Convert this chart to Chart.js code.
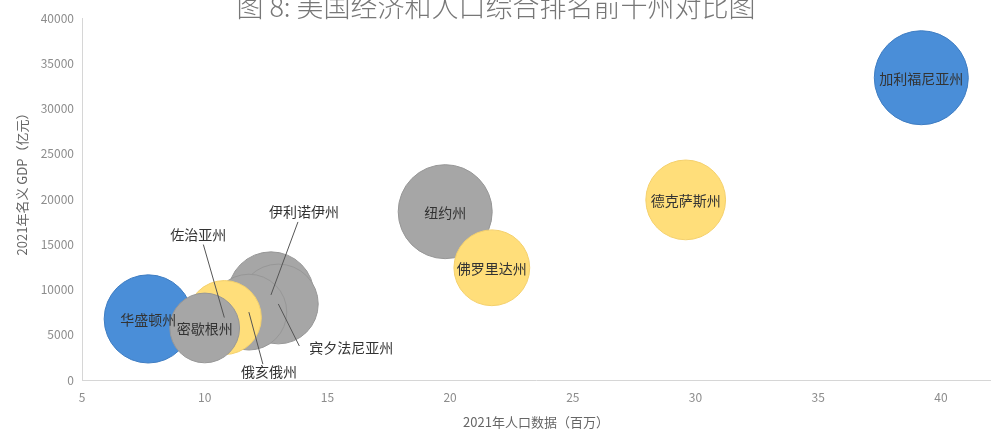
<!DOCTYPE html>
<html>
<head>
<meta charset="utf-8">
<script src="https://cdn.jsdelivr.net/npm/chart.js@4/dist/chart.umd.min.js"></script>
<style>
  html, body { margin: 0; padding: 0; background: #fff; overflow: hidden; }
  #wrap { width: 999px; height: 435px; position: relative; }
</style>
</head>
<body>
<div id="wrap"><canvas id="bubbleChart" width="999" height="435"></canvas></div>
<script>
// Dados: 2021 população (milhões), PIB nominal (亿元), tamanho relativo da bolha
const states = ["加利福尼亚州", "德克萨斯州", "纽约州", "佛罗里达州", "伊利诺伊州", "宾夕法尼亚州", "俄亥俄州", "佐治亚州", "华盛顿州", "密歇根州"];
const population = [39.2, 29.6, 19.8, 21.7, 12.7, 13.0, 11.8, 10.8, 7.7, 10.0];
const gdp = [33400, 19900, 18600, 12400, 9400, 8400, 7500, 6900, 6750, 5750];
const bubbleSize = [100, 72, 100, 65, 84, 72, 65, 62, 88, 55];
const region = ["west", "south", "northeast", "south", "midwest", "northeast", "midwest", "south", "west", "midwest"];
const xTicks = [5, 10, 15, 20, 25, 30, 35, 40];
const yTicks = [0, 5000, 10000, 15000, 20000, 25000, 30000, 35000, 40000];

const regionColors = {
    west: { fill: "#4a8ed8", border: "#3f7dc2" },
    south: { fill: "#ffde7a", border: "#f4d06c" },
    northeast: { fill: "#a6a6a6", border: "#979797" },
    midwest: { fill: "#a6a6a6", border: "#979797" }
};

// Rótulos fora da bolha (com linha de chamada)
const calloutLabels = {
    "伊利诺伊州": { dx: 33, dy: -83, lineFrom: [27, -73] },
    "宾夕法尼亚州": { dx: 73, dy: 44, lineFrom: [21, 42] },
    "俄亥俄州": { dx: 20, dy: 60, lineFrom: [14, 52] },
    "佐治亚州": { dx: -26, dy: -83, lineFrom: [-21, -73] }
};

const maxRadius = 47;
const maxSize = Math.max(...bubbleSize);
const points = states.map((s, i) => ({
    x: population[i],
    y: gdp[i],
    r: maxRadius * Math.sqrt(bubbleSize[i] / maxSize),
    label: s
}));

const fontFamily = "'Noto Sans CJK SC', 'Noto Sans', sans-serif";

// Plugin para títulos e rótulos das bolhas
const labelPlugin = {
    id: "bubbleLabels",
    afterDatasetsDraw(chart) {
        const ctx = chart.ctx;
        const meta = chart.getDatasetMeta(0);
        ctx.save();
        ctx.font = "14px " + fontFamily;
        ctx.fillStyle = "#333";
        ctx.textAlign = "center";
        ctx.textBaseline = "middle";
        meta.data.forEach((el, i) => {
            const name = states[i];
            const c = calloutLabels[name];
            if (c) {
                ctx.strokeStyle = "#555";
                ctx.lineWidth = 1;
                ctx.beginPath();
                ctx.moveTo(el.x + c.lineFrom[0], el.y + c.lineFrom[1]);
                ctx.lineTo(el.x, el.y);
                ctx.stroke();
                ctx.fillText(name, el.x + c.dx, el.y + c.dy);
            } else {
                ctx.fillText(name, el.x, el.y + 1);
            }
        });
        ctx.restore();
    },
    afterDraw(chart) {
        const ctx = chart.ctx;
        ctx.save();
        ctx.font = "300 27px " + fontFamily;
        ctx.fillStyle = "#777";
        ctx.textAlign = "center";
        ctx.textBaseline = "middle";
        ctx.fillText("图 8: 美国经济和人口综合排名前十州对比图", 496, 7);

        // Título do eixo Y (um pouco acima do centro, como no original)
        ctx.translate(22, 181);
        ctx.rotate(-Math.PI / 2);
        ctx.font = "13px " + fontFamily;
        ctx.fillStyle = "#666";
        ctx.fillText("2021年名义 GDP（亿元）", 0, 0);
        ctx.restore();
    }
};

const chartCtx = document.getElementById("bubbleChart").getContext("2d");
new Chart(chartCtx, {
    type: "bubble",
    data: {
        datasets: [{
            data: points,
            backgroundColor: region.map(r => regionColors[r].fill),
            borderColor: region.map(r => regionColors[r].border),
            borderWidth: 1
        }]
    },
    options: {
        responsive: false,
        animation: false,
        maintainAspectRatio: false,
        layout: { autoPadding: false, padding: { top: 18, right: 9, left: 0, bottom: 0 } },
        plugins: {
            legend: { display: false },
            tooltip: { enabled: false }
        },
        scales: {
            x: {
                type: "linear",
                min: 5,
                max: 42,
                afterFit: scale => { scale.height = 55; },
                afterBuildTicks: scale => { scale.ticks = xTicks.map(v => ({ value: v })); },
                grid: { display: false, drawTicks: false },
                border: { display: true, color: "#d6d6d6" },
                ticks: { padding: 10, color: "#8c8c8c", font: { family: fontFamily, size: 12 } },
                title: {
                    display: true,
                    text: "2021年人口数据（百万）",
                    color: "#666",
                    font: { family: fontFamily, size: 13 },
                    padding: { top: 0, bottom: 5 }
                }
            },
            y: {
                type: "linear",
                min: 0,
                max: 40000,
                afterFit: scale => { scale.width = 82; },
                afterBuildTicks: scale => { scale.ticks = yTicks.map(v => ({ value: v })); },
                grid: { display: false, drawTicks: false },
                border: { display: true, color: "#d6d6d6" },
                ticks: { padding: 8, color: "#8c8c8c", font: { family: fontFamily, size: 12 }, callback: v => String(v) },
                title: { display: false }
            }
        }
    },
    plugins: [labelPlugin]
});
</script>
</body>
</html>
